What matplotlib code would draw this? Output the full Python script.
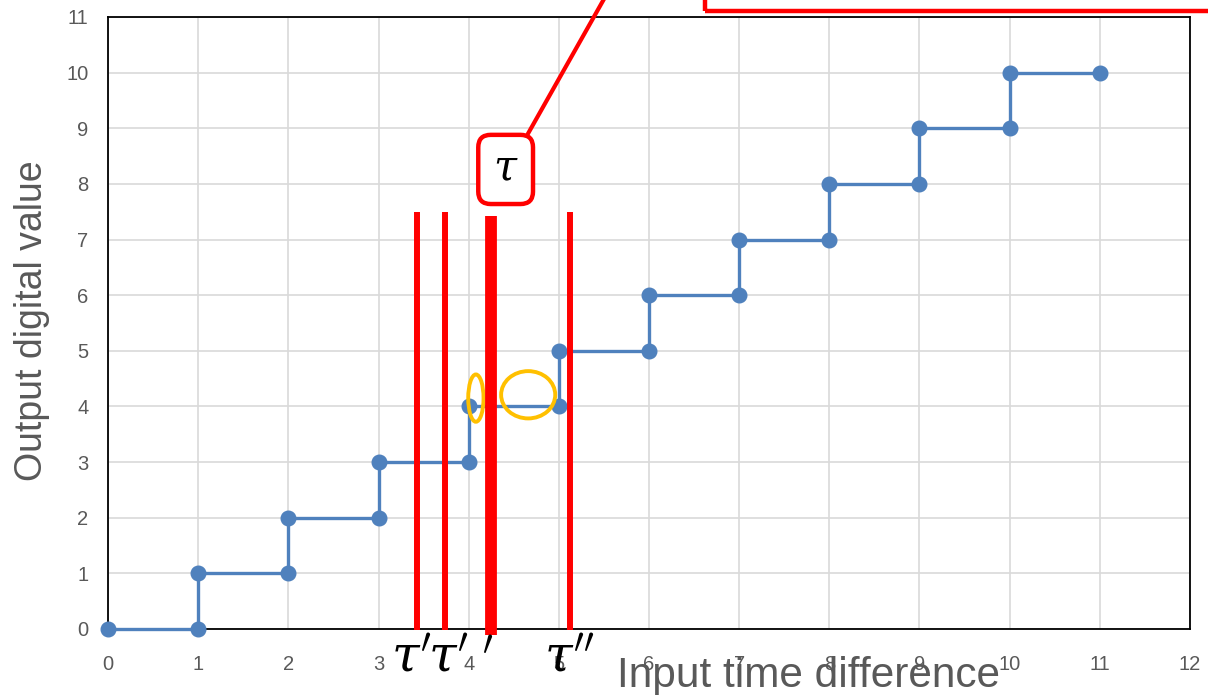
import matplotlib.pyplot as plt
from matplotlib.patches import Ellipse, Rectangle

# step characteristic of the converter
input_x = [0, 1, 1, 2, 2, 3, 3, 4, 4, 5, 5, 6, 6, 7, 7, 8, 8, 9, 9, 10, 10, 11]
output_y = [0, 0, 1, 1, 2, 2, 3, 3, 4, 4, 5, 5, 6, 6, 7, 7, 8, 8, 9, 9, 10, 10]

x_ticks = list(range(0, 13))
y_ticks = list(range(0, 12))

# red marker lines (tau positions)
tau_lines = [3.43, 3.74, 5.12]
tau_line_top = 7.5
tau_main = 4.25
tau_main_top = 7.42

# tau labels under the axis
tau_labels = [r"$\tau'$", r"$\tau'$", r"$'$", r"$\tau''$"]
tau_label_x = [3.36, 3.78, 4.21, 5.12]

GRAY = "#595959"
BLUE = "#4F81BD"
RED = "#FF0000"
ORANGE = "#FFC000"

plt.rcParams['font.family'] = ['Liberation Sans', 'DejaVu Sans']
plt.rcParams['mathtext.fontset'] = 'dejavuserif'

fig = plt.figure(figsize=(12.08, 6.95), dpi=100)
ax = fig.add_axes([108 / 1208, 1 - 629 / 695, (1190 - 108) / 1208, (629 - 17) / 695])

ax.set_xlim(0, 12)
ax.set_ylim(0, 11)
ax.set_xticks(x_ticks)
ax.set_yticks(y_ticks)
ax.grid(True, color="#D9D9D9", linewidth=1.2)
ax.set_axisbelow(True)
ax.tick_params(length=0, labelsize=14.5, labelcolor=GRAY)
ax.tick_params(axis='x', pad=19)
ax.tick_params(axis='y', pad=14)
for s in ax.spines.values():
	s.set_color("black")
	s.set_linewidth(1.3)

ax.plot(input_x, output_y, color=BLUE, linewidth=2.4, marker='o', markersize=10.5,
		clip_on=False, zorder=3)

# orange ellipses
ax.add_patch(Ellipse((4.08, 4.15), 0.17, 0.85, fill=False, edgecolor=ORANGE, linewidth=2.8, zorder=4))
ax.add_patch(Ellipse((4.66, 4.21), 0.6, 0.85, fill=False, edgecolor=ORANGE, linewidth=2.8, zorder=4))

# red vertical lines
for xv in tau_lines:
	ax.plot([xv, xv], [-0.02, tau_line_top], color=RED, linewidth=4.3, clip_on=False, zorder=5,
			solid_capstyle='butt')
ax.plot([tau_main, tau_main], [-0.1, tau_main_top], color=RED, linewidth=8.5, clip_on=False, zorder=5,
		solid_capstyle='butt')

# tau labels under the axis
for lbl, xv in zip(tau_labels, tau_label_x):
	ax.text(xv, -0.77, lbl, ha='center', va='baseline', fontsize=36, color='black',
			clip_on=False, zorder=6)

# tau callout box
ax.text(4.41, 8.26, r"$\tau$", ha='center', va='center', fontsize=30,
		bbox=dict(boxstyle='round,pad=0.35,rounding_size=0.3', facecolor='white', edgecolor=RED,
				  linewidth=3.2), zorder=6)
ax.plot([4.65, 5.51], [8.88, 11.35], color=RED, linewidth=3, clip_on=False, zorder=5)

# top-right red box (partly outside)
ax.add_patch(Rectangle((6.62, 11.1), 8, 3, fill=False, edgecolor=RED, linewidth=3.2, clip_on=False, zorder=5))

fig.text(32 / 1208, 1 - 321 / 695, "Output digital value", rotation=90, ha='center', va='center',
		 fontsize=27, color=GRAY)
fig.text(617 / 1208, 1 - 687 / 695, "Input time difference", ha='left', va='baseline',
		 fontsize=30.5, color=GRAY)

fig.savefig("out.png", dpi=100)
